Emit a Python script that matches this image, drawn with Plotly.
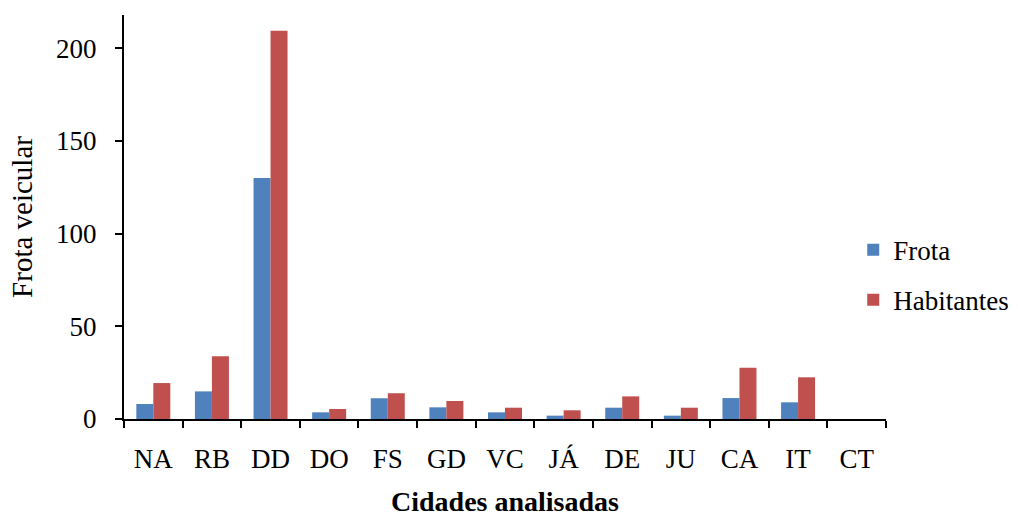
import plotly.graph_objects as go

cities = ["NA", "RB", "DD", "DO", "FS", "GD", "VC", "JÁ", "DE", "JU", "CA", "IT", "CT"]
frota = [8.1, 14.9, 130.1, 3.6, 11.2, 6.3, 3.6, 1.8, 6.1, 1.8, 11.3, 9.0, 0]
habitantes = [19.4, 33.8, 209.5, 5.4, 13.9, 9.7, 6.1, 4.7, 12.2, 6.1, 27.7, 22.5, 0]
y_ticks = [0, 50, 100, 150, 200]

FONT = "Liberation Serif, Times New Roman, serif"

fig = go.Figure()
fig.add_trace(go.Bar(x=cities, y=frota, name="Frota", marker_color="#4F81BD",
                     marker_line_width=0, legendgroup="a"))
fig.add_trace(go.Bar(x=cities, y=habitantes, name="Habitantes", marker_color="#C0504D",
                     marker_line_width=0, legendgroup="b"))

fig.update_layout(
    width=1018, height=519,
    margin=dict(l=124, r=132, t=15, b=100, autoexpand=False),
    paper_bgcolor="white", plot_bgcolor="white",
    barmode="group", bargap=0.42, bargroupgap=0,
    font=dict(family=FONT, color="black", size=27),
    legend=dict(x=0.957, xanchor="left", xref="paper", y=0.356, yanchor="middle",
                font=dict(size=27, family=FONT), tracegroupgap=12,
                bgcolor="rgba(0,0,0,0)"),
    showlegend=True,
)
fig.update_xaxes(
    type="category", tickson="boundaries", ticks="outside", ticklen=7,
    tickcolor="black", tickwidth=2, showline=True, linecolor="black", linewidth=2,
    showgrid=False, tickfont=dict(size=27, family=FONT), ticklabelstandoff=15,
)
fig.update_yaxes(
    range=[0, 218], tickvals=y_ticks, ticks="outside", ticklen=7,
    tickcolor="black", tickwidth=2, showline=True, linecolor="black", linewidth=2,
    showgrid=False, zeroline=False, tickfont=dict(size=27, family=FONT),
    ticklabelstandoff=13,
)
fig.add_annotation(text="Frota veicular", xref="paper", yref="paper",
                   x=-0.134, y=0.5, textangle=-90, showarrow=False,
                   xanchor="center", yanchor="middle",
                   font=dict(size=29, family=FONT))
fig.add_annotation(text="<b>Cidades analisadas</b>", xref="paper", yref="paper",
                   x=0.5, y=-0.203, showarrow=False, xanchor="center", yanchor="middle",
                   font=dict(size=28, family=FONT))

fig.write_html("out.html")
